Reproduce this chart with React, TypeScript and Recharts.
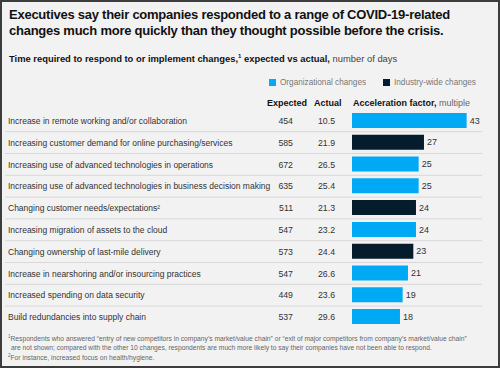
import React from 'react';
import { BarChart, Bar, XAxis, YAxis, Legend, LabelList } from 'recharts';

const LABELS = [
  'Increase in remote working and/or collaboration',
  'Increasing customer demand for online purchasing/services',
  'Increasing use of advanced technologies in operations',
  'Increasing use of advanced technologies in business decision making',
  'Changing customer needs/expectations\u00b2',
  'Increasing migration of assets to the cloud',
  'Changing ownership of last-mile delivery',
  'Increase in nearshoring and/or insourcing practices',
  'Increased spending on data security',
  'Build redundancies into supply chain',
];
const EXPECTED = [454, 585, 672, 635, 511, 547, 573, 547, 449, 537];
const ACTUAL = ['10.5', '21.9', '26.5', '25.4', '21.3', '23.2', '24.4', '26.6', '23.6', '29.6'];
const FACTOR = [43, 27, 25, 25, 24, 24, 23, 21, 19, 18];
const TYPE = ['org', 'ind', 'org', 'org', 'ind', 'org', 'ind', 'org', 'org', 'org'];
const SERIES = ['Organizational changes', 'Industry-wide changes'];

const BLUE = '#00a9f4';
const NAVY = '#051c2c';
const FONT = '"Liberation Sans", Arial, sans-serif';

const data = LABELS.map((name, i) => ({
  name,
  org: TYPE[i] === 'org' ? FACTOR[i] : null,
  ind: TYPE[i] === 'ind' ? FACTOR[i] : null,
}));

// left side of each row: label, expected, actual + separator under it
const RowTick = (props: any) => {
  const { y, payload } = props;
  const i = payload.index;
  return (
    <g fontFamily={FONT} fontSize={8.75} fill="#333">
      <text x={8} y={y} dy={3.2} fontSize={8.5}>{LABELS[i]}</text>
      <text x={293} y={y} dy={3.2} textAnchor="end">{EXPECTED[i]}</text>
      <text x={335} y={y} dy={3.2} textAnchor="end">{ACTUAL[i]}</text>
      {i < LABELS.length - 1 && (
        <line x1={5} x2={482} y1={y + 10.9} y2={y + 10.9} stroke="#d8d8d8" strokeWidth={1} />
      )}
    </g>
  );
};

const LegendContent = (props: any) => {
  const items = [...(props.payload || [])].sort(
    (a: any, b: any) => SERIES.indexOf(a.value) - SERIES.indexOf(b.value)
  );
  return (
    <div style={{ display: 'flex', fontFamily: FONT, fontSize: 8.2, color: '#777', whiteSpace: 'nowrap' }}>
      {items.map((p: any) => (
        <span key={p.value} style={{ display: 'flex', alignItems: 'center', marginRight: 17 }}>
          <span style={{ width: 7, height: 7, background: p.color, marginRight: 4, display: 'inline-block' }} />
          {p.value}
        </span>
      ))}
    </div>
  );
};

const fmt = (v: any) => (v ? v : '');

export default function App() {
  return (
    <div
      style={{
        position: 'absolute',
        left: 0,
        top: 0,
        width: 500,
        height: 368,
        background: '#f2f2f2',
        boxShadow: 'inset 0 0 0 2px #3c3c3c',
        fontFamily: FONT,
        overflow: 'hidden',
      }}
    >
      <div style={{ position: 'absolute', left: 9, top: 7, fontSize: 13, letterSpacing: -0.25, lineHeight: '15.5px', fontWeight: 700, color: '#111', whiteSpace: 'nowrap' }}>
        Executives say their companies responded to a range of COVID-19-related
        <br />
        changes much more quickly than they thought possible before the crisis.
      </div>
      <div style={{ position: 'absolute', left: 9, top: 53, fontSize: 9.4, fontWeight: 700, color: '#111', whiteSpace: 'nowrap' }}>
        Time required to respond to or implement changes,<sup style={{ fontSize: 6 }}>1</sup> expected vs actual,{' '}
        <span style={{ fontWeight: 400, color: '#444' }}>number of days</span>
      </div>
      <div style={{ position: 'absolute', top: 98, left: 0, fontSize: 9, fontWeight: 700, color: '#111', whiteSpace: 'nowrap' }}>
        <span style={{ position: 'absolute', left: 267 }}>Expected</span>
        <span style={{ position: 'absolute', left: 314 }}>Actual</span>
        <span style={{ position: 'absolute', left: 353 }}>
          Acceleration factor, <span style={{ fontWeight: 400, color: '#666' }}>multiple</span>
        </span>
      </div>
      <div style={{ position: 'absolute', left: 0, top: 70 }}>
        <BarChart
          width={500}
          height={270}
          data={data}
          layout="vertical"
          margin={{ top: 39.9, right: 14.7, bottom: 12.1, left: 0 }}
        >
          <XAxis type="number" domain={[0, 50]} hide />
          <YAxis
            type="category"
            dataKey="name"
            width={352}
            axisLine={false}
            tickLine={false}
            interval={0}
            tick={<RowTick />}
          />
          <Legend
            layout="horizontal"
            verticalAlign="middle"
            align="center"
            wrapperStyle={{ top: 8, left: 269, width: 230 }}
            content={<LegendContent />}
          />
          <Bar dataKey="org" name={SERIES[0]} stackId="a" fill={BLUE} barSize={15} isAnimationActive={false}>
            <LabelList dataKey="org" position="right" offset={3} formatter={fmt} fontSize={9} fill="#333" fontFamily={FONT} />
          </Bar>
          <Bar dataKey="ind" name={SERIES[1]} stackId="a" fill={NAVY} barSize={15} isAnimationActive={false}>
            <LabelList dataKey="ind" position="right" offset={3} formatter={fmt} fontSize={9} fill="#333" fontFamily={FONT} />
          </Bar>
        </BarChart>
      </div>
      <div style={{ position: 'absolute', left: 8, top: 333, fontSize: 6.7, lineHeight: '8.3px', color: '#666', whiteSpace: 'nowrap' }}>
        <div>
          <sup style={{ fontSize: 4.5 }}>1</sup>Respondents who answered “entry of new competitors in company’s market/value chain” or “exit of major competitors from company’s market/value chain”
        </div>
        <div style={{ paddingLeft: 3 }}>
          are not shown; compared with the other 10 changes, respondents are much more likely to say their companies have not been able to respond.
        </div>
        <div>
          <sup style={{ fontSize: 4.5 }}>2</sup>For instance, increased focus on health/hygiene.
        </div>
      </div>
    </div>
  );
}
